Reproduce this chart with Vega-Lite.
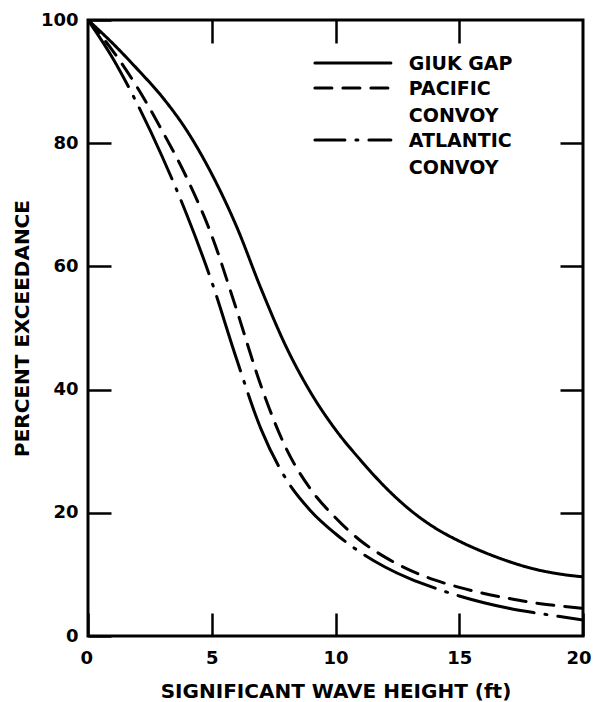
{
  "$schema": "https://vega.github.io/schema/vega-lite/v6.json",
  "width": 495,
  "height": 616,
  "autosize": "none",
  "padding": {"left": 88, "top": 20, "right": 11, "bottom": 66},
  "background": "white",
  "config": {
    "view": {"stroke": "black", "strokeWidth": 3},
    "font": "DejaVu Sans",
    "axis": {"grid": false}
  },
  "data": {
    "values": [
      {"series": "GIUK GAP", "height": 0, "pct": 100},
      {"series": "GIUK GAP", "height": 1, "pct": 96.2},
      {"series": "GIUK GAP", "height": 2, "pct": 92},
      {"series": "GIUK GAP", "height": 3, "pct": 87.5},
      {"series": "GIUK GAP", "height": 4, "pct": 82},
      {"series": "GIUK GAP", "height": 5, "pct": 75},
      {"series": "GIUK GAP", "height": 6, "pct": 66.5},
      {"series": "GIUK GAP", "height": 7, "pct": 56.3},
      {"series": "GIUK GAP", "height": 8, "pct": 47},
      {"series": "GIUK GAP", "height": 9, "pct": 39.5},
      {"series": "GIUK GAP", "height": 10, "pct": 33.5},
      {"series": "GIUK GAP", "height": 11, "pct": 28.6},
      {"series": "GIUK GAP", "height": 12, "pct": 24.2},
      {"series": "GIUK GAP", "height": 13, "pct": 20.5},
      {"series": "GIUK GAP", "height": 14, "pct": 17.6},
      {"series": "GIUK GAP", "height": 15, "pct": 15.4},
      {"series": "GIUK GAP", "height": 16, "pct": 13.6},
      {"series": "GIUK GAP", "height": 17, "pct": 12.1},
      {"series": "GIUK GAP", "height": 18, "pct": 10.9},
      {"series": "GIUK GAP", "height": 19, "pct": 10.1},
      {"series": "GIUK GAP", "height": 20, "pct": 9.6},
      {"series": "PACIFIC CONVOY", "height": 0, "pct": 100},
      {"series": "PACIFIC CONVOY", "height": 1, "pct": 95},
      {"series": "PACIFIC CONVOY", "height": 2, "pct": 89},
      {"series": "PACIFIC CONVOY", "height": 3, "pct": 82},
      {"series": "PACIFIC CONVOY", "height": 4, "pct": 74.3},
      {"series": "PACIFIC CONVOY", "height": 5, "pct": 65},
      {"series": "PACIFIC CONVOY", "height": 6, "pct": 53},
      {"series": "PACIFIC CONVOY", "height": 7, "pct": 40.5},
      {"series": "PACIFIC CONVOY", "height": 8, "pct": 30.5},
      {"series": "PACIFIC CONVOY", "height": 9, "pct": 23.8},
      {"series": "PACIFIC CONVOY", "height": 10, "pct": 19.2},
      {"series": "PACIFIC CONVOY", "height": 11, "pct": 15.5},
      {"series": "PACIFIC CONVOY", "height": 12, "pct": 12.8},
      {"series": "PACIFIC CONVOY", "height": 13, "pct": 10.7},
      {"series": "PACIFIC CONVOY", "height": 14, "pct": 9.1},
      {"series": "PACIFIC CONVOY", "height": 15, "pct": 7.9},
      {"series": "PACIFIC CONVOY", "height": 16, "pct": 6.9},
      {"series": "PACIFIC CONVOY", "height": 17, "pct": 6.1},
      {"series": "PACIFIC CONVOY", "height": 18, "pct": 5.4},
      {"series": "PACIFIC CONVOY", "height": 19, "pct": 4.9},
      {"series": "PACIFIC CONVOY", "height": 20, "pct": 4.5},
      {"series": "ATLANTIC CONVOY", "height": 0, "pct": 100},
      {"series": "ATLANTIC CONVOY", "height": 1, "pct": 93.8},
      {"series": "ATLANTIC CONVOY", "height": 2, "pct": 86.3},
      {"series": "ATLANTIC CONVOY", "height": 3, "pct": 77.8},
      {"series": "ATLANTIC CONVOY", "height": 4, "pct": 68.3},
      {"series": "ATLANTIC CONVOY", "height": 5, "pct": 57.5},
      {"series": "ATLANTIC CONVOY", "height": 6, "pct": 45},
      {"series": "ATLANTIC CONVOY", "height": 7, "pct": 33.5},
      {"series": "ATLANTIC CONVOY", "height": 8, "pct": 25.5},
      {"series": "ATLANTIC CONVOY", "height": 9, "pct": 20.3},
      {"series": "ATLANTIC CONVOY", "height": 10, "pct": 16.6},
      {"series": "ATLANTIC CONVOY", "height": 11, "pct": 13.6},
      {"series": "ATLANTIC CONVOY", "height": 12, "pct": 11.2},
      {"series": "ATLANTIC CONVOY", "height": 13, "pct": 9.3},
      {"series": "ATLANTIC CONVOY", "height": 14, "pct": 7.8},
      {"series": "ATLANTIC CONVOY", "height": 15, "pct": 6.5},
      {"series": "ATLANTIC CONVOY", "height": 16, "pct": 5.4},
      {"series": "ATLANTIC CONVOY", "height": 17, "pct": 4.5},
      {"series": "ATLANTIC CONVOY", "height": 18, "pct": 3.8},
      {"series": "ATLANTIC CONVOY", "height": 19, "pct": 3.2},
      {"series": "ATLANTIC CONVOY", "height": 20, "pct": 2.6}
    ]
  },
  "layer": [
    {
      "mark": {"type": "line", "color": "black", "strokeWidth": 3, "strokeCap": "round", "strokeJoin": "round", "interpolate": "monotone", "clip": true},
      "encoding": {
        "x": {
          "field": "height", "type": "quantitative",
          "scale": {"domain": [0, 20], "nice": false, "zero": false},
          "axis": {
            "orient": "bottom", "values": [0, 5, 10, 15, 20], "domain": false, "grid": false,
            "tickSize": -23, "tickWidth": 2.5, "tickColor": "black",
            "labelPadding": 36, "labelFlush": true, "labelFlushOffset": 8, "labelFont": "DejaVu Sans", "labelFontWeight": "bold",
            "labelFontSize": 18, "labelColor": "black",
            "title": "SIGNIFICANT WAVE HEIGHT (ft)", "titleFont": "DejaVu Sans", "titleFontWeight": "bold",
            "titleFontSize": 20, "titleColor": "black", "titleX": 247.5, "titleY": 55, "titleBaseline": "middle", "titleAlign": "center"
          }
        },
        "y": {
          "field": "pct", "type": "quantitative",
          "scale": {"domain": [0, 100], "nice": false},
          "axis": {
            "orient": "left", "values": [0, 20, 40, 60, 80, 100], "domain": false, "grid": false,
            "tickSize": -23, "tickWidth": 2.5, "tickColor": "black",
            "labelPadding": 33, "labelFlush": false, "labelFont": "DejaVu Sans", "labelFontWeight": "bold",
            "labelFontSize": 18, "labelColor": "black",
            "title": "PERCENT EXCEEDANCE", "titleFont": "DejaVu Sans", "titleFontWeight": "bold",
            "titleFontSize": 20, "titleColor": "black", "titleX": -66, "titleY": 308, "titleBaseline": "middle", "titleAlign": "center", "titleAngle": -90
          }
        },
        "strokeDash": {
          "field": "series", "type": "nominal",
          "scale": {"domain": ["GIUK GAP", "PACIFIC CONVOY", "ATLANTIC CONVOY"], "range": [[1, 0], [17, 11], [78, 11, 2, 11]]},
          "legend": {
            "orient": "none", "legendX": 285.8, "legendY": 33.5, "title": null, "padding": 0,
            "symbolType": "M-9,0H1", "symbolSize": 231, "symbolStrokeWidth": 3,
            "symbolStrokeColor": "black", "symbolFillColor": "transparent",
            "labelFont": "DejaVu Sans", "labelFontWeight": "bold", "labelFontSize": 19, "labelColor": "black",
            "labelOffset": 16, "labelBaseline": "top", "rowPadding": 4, "labelLimit": 0,
            "labelExpr": "datum.label == 'GIUK GAP' ? datum.label : split(datum.label, ' ')",
            "encode": {
              "symbols": {"update": {
                "fill": {"value": "transparent"}, "stroke": {"value": "black"}, "strokeWidth": {"value": 3}, "strokeCap": {"value": "round"},
                "strokeDashOffset": {"signal": "datum.value === 'ATLANTIC CONVOY' ? 48 : 0"}
              }},
              "labels": {"update": {"dy": {"value": -8}, "lineHeight": {"value": 27}}}
            }
          }
        }
      }
    },
    {
      "mark": {"type": "line", "opacity": 0, "strokeOpacity": 0},
      "encoding": {
        "x": {
          "field": "height", "type": "quantitative",
          "scale": {"domain": [0, 20], "nice": false, "zero": false},
          "axis": {"orient": "top", "values": [5, 10, 15], "domain": false, "grid": false, "labels": false, "tickSize": -23, "tickWidth": 2.5, "tickColor": "black", "title": null}
        },
        "y": {
          "field": "pct", "type": "quantitative",
          "scale": {"domain": [0, 100], "nice": false},
          "axis": {"orient": "right", "values": [20, 40, 60, 80], "domain": false, "grid": false, "labels": false, "tickSize": -23, "tickWidth": 2.5, "tickColor": "black", "title": null}
        },
        "detail": {"field": "series", "type": "nominal"}
      }
    }
  ]
}
